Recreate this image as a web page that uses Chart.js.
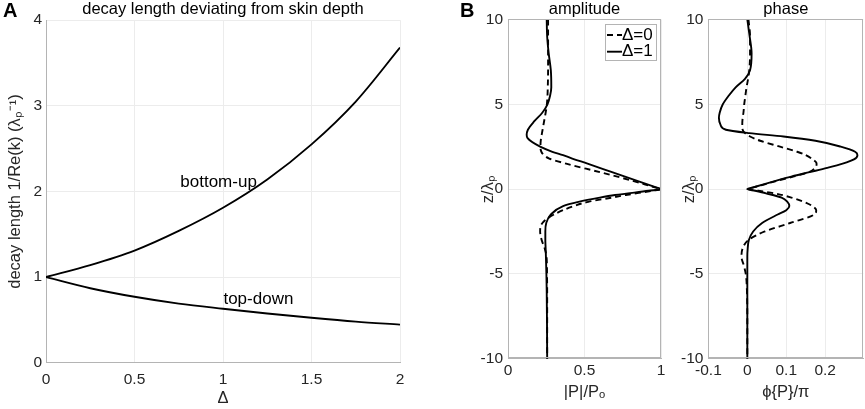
<!DOCTYPE html>
<html><head><meta charset="utf-8">
<script src="https://cdn.jsdelivr.net/npm/chart.js@4.4.0/dist/chart.umd.min.js"></script>
<style>
html,body{margin:0;padding:0;background:#fff;}
#wrap{position:relative;width:865px;height:409px;overflow:hidden;background:#fff;}
canvas{position:absolute;top:0;}
</style></head><body>
<div id="wrap">
<canvas id="cA" width="420" height="409" style="left:0px;width:420px;height:409px"></canvas>
<canvas id="cB1" width="235" height="409" style="left:455px;width:235px;height:409px"></canvas>
<canvas id="cB2" width="197" height="409" style="left:668px;width:197px;height:409px"></canvas>
</div>
<script>
// ---------- Panel A data ----------
const deltaVals = [0, 0.25, 0.5, 0.75, 1, 1.25, 1.5, 1.75, 2];
const bottomUp  = [1.00, 1.14, 1.31, 1.54, 1.81, 2.14, 2.55, 3.05, 3.68];
const topDown   = [1.00, 0.87, 0.77, 0.69, 0.63, 0.575, 0.525, 0.48, 0.445];
const xTicksA = [0, 0.5, 1, 1.5, 2];
const yTicksA = [0, 1, 2, 3, 4];
const curveLabelsA = [
  {text: 'bottom-up', x: 0.975, y: 2.11},
  {text: 'top-down',  x: 1.2,   y: 0.744}
];

// ---------- Panel B amplitude data ----------
const zAmp = [10, 9, 8, 7, 6, 5.5, 5, 4.5, 4, 3.5, 3.2, 3, 2.5, 2.2, 2, 1.8, 1.5, 1, 0.5, 0.1, 0,
              -0.1, -0.35, -0.5, -0.75, -1, -1.5, -2, -2.5, -3, -3.5, -4, -5, -6, -8, -10];
const ampD0 = [0.262, 0.262, 0.262, 0.262, 0.260, 0.258, 0.254, 0.246, 0.236, 0.226, 0.220, 0.216, 0.212, 0.218, 0.235, 0.27, 0.38, 0.60, 0.81, 0.96, 1.0,
               0.94, 0.77, 0.68, 0.525, 0.43, 0.30, 0.225, 0.21, 0.22, 0.24, 0.252, 0.255, 0.256, 0.256, 0.256];
const ampD1 = [0.253, 0.256, 0.266, 0.280, 0.283, 0.275, 0.258, 0.224, 0.172, 0.130, 0.122, 0.128, 0.21, 0.29, 0.36, 0.42, 0.52, 0.68, 0.84, 0.968, 1.0,
               0.92, 0.70, 0.60, 0.46, 0.36, 0.28, 0.25, 0.244, 0.244, 0.246, 0.248, 0.251, 0.253, 0.255, 0.256];
const xTicksAmp = [0, 0.5, 1];
const zTicks = [-10, -5, 0, 5, 10];

// ---------- Panel B phase data ----------
const zPh = [10, 9, 8, 7, 6.5, 6, 5.5, 5, 4.5, 4.2, 3.8, 3.5, 3.3, 3.1, 2.85, 2.5, 2.2, 2, 1.75, 1.5, 1.25, 1, 0.75, 0.5, 0.25, 0.1, 0,
             -0.1, -0.25, -0.5, -0.75, -1, -1.25, -1.5, -2, -2.5, -3, -3.5, -4, -4.5, -5, -6, -8, -10];
const phD0 = [0.003, 0.007, 0.007, 0.005, 0.002, -0.002, -0.005, -0.008, -0.010, -0.012, -0.013, -0.012, -0.006, 0.007, 0.033, 0.084, 0.128, 0.150, 0.168, 0.178, 0.174, 0.158, 0.120, 0.078, 0.040, 0.016, 0,
              0.028, 0.070, 0.113, 0.145, 0.167, 0.177, 0.172, 0.110, 0.045, 0.003, -0.012, -0.015, -0.009, -0.004, -0.001, 0, 0];
const phD1 = [0, 0.006, 0.011, 0.007, -0.006, -0.030, -0.048, -0.063, -0.071, -0.073, -0.069, -0.055, 0.005, 0.093, 0.175, 0.240, 0.277, 0.283, 0.274, 0.245, 0.205, 0.160, 0.115, 0.075, 0.037, 0.015, 0,
              0.020, 0.048, 0.088, 0.103, 0.108, 0.100, 0.078, 0.038, 0.015, 0.004, 0.001, 0, 0, 0, 0, 0, 0];
const xTicksPh = [-0.1, 0, 0.1, 0.2];

// ---------- styling ----------
const FONT = "'Liberation Sans', Arial, Helvetica, sans-serif";
Chart.defaults.font.family = FONT;
Chart.defaults.color = '#262626';
const AXIS_COL = '#b4b4b4';
const GRID_COL = '#ececec';

const pairs = (xs, ys) => xs.map((v, i) => ({x: v, y: ys[i]}));
const zPairs = (zs, vs) => zs.map((z, i) => ({x: vs[i], y: z}));
const fixTicks = arr => (s => { s.ticks = arr.map(v => ({value: v})); });

const panelLetter = {
  id: 'panelLetter',
  afterDraw(chart, args, o) {
    if (!o || !o.text) return;
    const c = chart.ctx; c.save();
    c.font = 'bold 20px ' + FONT; c.fillStyle = '#000';
    c.textBaseline = 'alphabetic'; c.textAlign = 'left';
    c.fillText(o.text, o.x, o.y); c.restore();
  }
};
const curveLabels = {
  id: 'curveLabels',
  afterDatasetsDraw(chart, args, o) {
    if (!o || !o.items) return;
    const c = chart.ctx; c.save();
    c.font = '17px ' + FONT; c.fillStyle = '#000';
    c.textAlign = 'center'; c.textBaseline = 'middle';
    o.items.forEach(it => {
      c.fillText(it.text, chart.scales.x.getPixelForValue(it.x), chart.scales.y.getPixelForValue(it.y));
    });
    c.restore();
  }
};
const frame = {
  id: 'frame',
  afterDraw(chart, args, o) {
    if (!o || !o.display) return;
    const a = chart.chartArea, c = chart.ctx; c.save();
    c.strokeStyle = AXIS_COL; c.lineWidth = 1;
    c.strokeRect(Math.round(a.left) + 0.5, Math.round(a.top) + 0.5, Math.round(a.right - a.left) - 1, Math.round(a.bottom - a.top) - 1);
    c.restore();
  }
};
const boxLegend = {
  id: 'boxLegend',
  afterDraw(chart, args, o) {
    if (!o || !o.display) return;
    const a = chart.chartArea, c = chart.ctx;
    const x0 = Math.round(a.right - o.right - o.width), y0 = Math.round(a.top + o.top);
    c.save();
    c.fillStyle = '#fff'; c.fillRect(x0, y0, o.width, o.height);
    c.strokeStyle = AXIS_COL; c.lineWidth = 1; c.strokeRect(x0 + 0.5, y0 + 0.5, o.width, o.height);
    c.font = '17px ' + FONT; c.textBaseline = 'middle'; c.textAlign = 'left';
    chart.data.datasets.forEach((ds, i) => {
      const cy = y0 + o.rowTop + i * o.rowGap;
      c.setLineDash(ds.borderDash || []);
      c.lineWidth = ds.borderWidth; c.strokeStyle = ds.borderColor;
      c.beginPath(); c.moveTo(x0 + o.lineStart, cy); c.lineTo(x0 + o.lineStart + o.lineLen, cy); c.stroke();
      c.setLineDash([]);
      c.fillStyle = '#000'; c.fillText(ds.label, x0 + o.textStart, cy);
    });
    c.restore();
  }
};

const lineStyle = (dash) => ({
  borderColor: '#000', borderWidth: 1.9, pointRadius: 0, pointHoverRadius: 0,
  fill: false, cubicInterpolationMode: 'monotone', borderDash: dash, borderCapStyle: 'butt', borderJoinStyle: 'round'
});
const tickFont = {size: 15.5};
const titleFont = {size: 16.5, lineHeight: 1.2};

// ---------- Chart A ----------
new Chart(document.getElementById('cA'), {
  type: 'line',
  data: { datasets: [
    Object.assign({label: 'bottom-up', data: pairs(deltaVals, bottomUp)}, lineStyle([])),
    Object.assign({label: 'top-down', data: pairs(deltaVals, topDown)}, lineStyle([]))
  ]},
  options: {
    responsive: false, animation: false, events: [],
    layout: {padding: {left: 0, right: 20, top: 0, bottom: 0}},
    plugins: {
      legend: {display: false}, tooltip: {enabled: false},
      title: {display: true, fullSize: false, text: 'decay length deviating from skin depth', color: '#000',
              font: {size: 16.5, weight: 'normal', lineHeight: 1.2}, padding: {top: 0, bottom: 0.4}},
      panelLetter: {text: 'A', x: 3, y: 17},
      curveLabels: {items: curveLabelsA}
    },
    scales: {
      x: {type: 'linear', min: 0, max: 2, afterBuildTicks: fixTicks(xTicksA),
          ticks: {font: tickFont, padding: 7.5, maxRotation: 0, autoSkip: false, callback: v => String(v)},
          grid: {color: GRID_COL, drawTicks: false}, border: {color: AXIS_COL},
          title: {display: true, text: 'Δ', font: titleFont, color: '#262626', padding: {top: 0, bottom: 1.1}},
          afterFit: s => { s.height = 46.3; }},
      y: {type: 'linear', min: 0, max: 4, afterBuildTicks: fixTicks(yTicksA),
          ticks: {font: tickFont, padding: 4, autoSkip: false, callback: v => String(v)},
          grid: {color: GRID_COL, drawTicks: false}, border: {color: AXIS_COL},
          title: {display: true, text: 'decay length 1/Re(k) (λₚ⁻¹)', font: titleFont, color: '#262626', padding: {top: 5.1, bottom: 0}},
          afterFit: s => { s.width = 46; }}
    }
  },
  plugins: [panelLetter, curveLabels]
});

// ---------- Chart B amplitude ----------
new Chart(document.getElementById('cB1'), {
  type: 'line',
  data: { datasets: [
    Object.assign({label: 'Δ=0', data: zPairs(zAmp, ampD0)}, lineStyle([6, 4])),
    Object.assign({label: 'Δ=1', data: zPairs(zAmp, ampD1)}, lineStyle([]))
  ]},
  options: {
    responsive: false, animation: false, events: [], indexAxis: 'y',
    layout: {padding: {left: 0, right: 29, top: 0, bottom: 0}},
    plugins: {
      legend: {display: false}, tooltip: {enabled: false},
      title: {display: true, fullSize: false, text: 'amplitude', color: '#000',
              font: {size: 16.5, weight: 'normal', lineHeight: 1.18}, padding: {top: 0, bottom: 0}},
      panelLetter: {text: 'B', x: 5, y: 17},
      frame: {display: true},
      boxLegend: {display: true, right: 5, top: 4.5, width: 51, height: 36, rowTop: 11, rowGap: 16.7, lineStart: 2, lineLen: 15, textStart: 17}
    },
    scales: {
      x: {type: 'linear', position: 'bottom', min: 0, max: 1, afterBuildTicks: fixTicks(xTicksAmp),
          ticks: {font: tickFont, padding: 2.8, maxRotation: 0, autoSkip: false, callback: v => String(v)},
          grid: {color: GRID_COL, drawTicks: false}, border: {color: AXIS_COL},
          title: {display: true, text: '|P|/Pₒ', font: titleFont, color: '#262626', padding: {top: 0, bottom: 7.1}},
          afterFit: s => { s.height = 50.3; }},
      y: {type: 'linear', position: 'left', min: -10, max: 10, afterBuildTicks: fixTicks(zTicks),
          ticks: {font: tickFont, padding: 5, autoSkip: false, callback: v => String(v)},
          grid: {color: GRID_COL, drawTicks: false}, border: {color: AXIS_COL},
          title: {display: true, text: 'z/λₚ', font: titleFont, color: '#262626', padding: {top: 23.6, bottom: 0}},
          afterFit: s => { s.width = 53; }}
    }
  },
  plugins: [panelLetter, frame, boxLegend]
});

// ---------- Chart B phase ----------
new Chart(document.getElementById('cB2'), {
  type: 'line',
  data: { datasets: [
    Object.assign({label: 'Δ=0', data: zPairs(zPh, phD0)}, lineStyle([6, 4])),
    Object.assign({label: 'Δ=1', data: zPairs(zPh, phD1)}, lineStyle([]))
  ]},
  options: {
    responsive: false, animation: false, events: [], indexAxis: 'y',
    layout: {padding: {left: 0, right: 1.7, top: 0, bottom: 0}},
    plugins: {
      legend: {display: false}, tooltip: {enabled: false},
      title: {display: true, fullSize: false, text: 'phase', color: '#000',
              font: {size: 16.5, weight: 'normal', lineHeight: 1.18}, padding: {top: 0, bottom: 0}},
      frame: {display: true}
    },
    scales: {
      x: {type: 'linear', position: 'bottom', min: -0.1, max: 0.298, afterBuildTicks: fixTicks(xTicksPh),
          ticks: {font: tickFont, padding: 2.8, maxRotation: 0, autoSkip: false, callback: v => String(v)},
          grid: {color: GRID_COL, drawTicks: false}, border: {color: AXIS_COL},
          title: {display: true, text: 'ϕ{P}/π', font: titleFont, color: '#262626', padding: {top: 0, bottom: 7.1}},
          afterFit: s => { s.height = 50.3; }},
      y: {type: 'linear', position: 'left', min: -10, max: 10, afterBuildTicks: fixTicks(zTicks),
          ticks: {font: tickFont, padding: 5, autoSkip: false, callback: v => String(v)},
          grid: {color: GRID_COL, drawTicks: false}, border: {color: AXIS_COL},
          title: {display: true, text: 'z/λₚ', font: titleFont, color: '#262626', padding: {top: 11.1, bottom: 0}},
          afterFit: s => { s.width = 40.4; }}
    }
  },
  plugins: [frame]
});
</script>
</body></html>
